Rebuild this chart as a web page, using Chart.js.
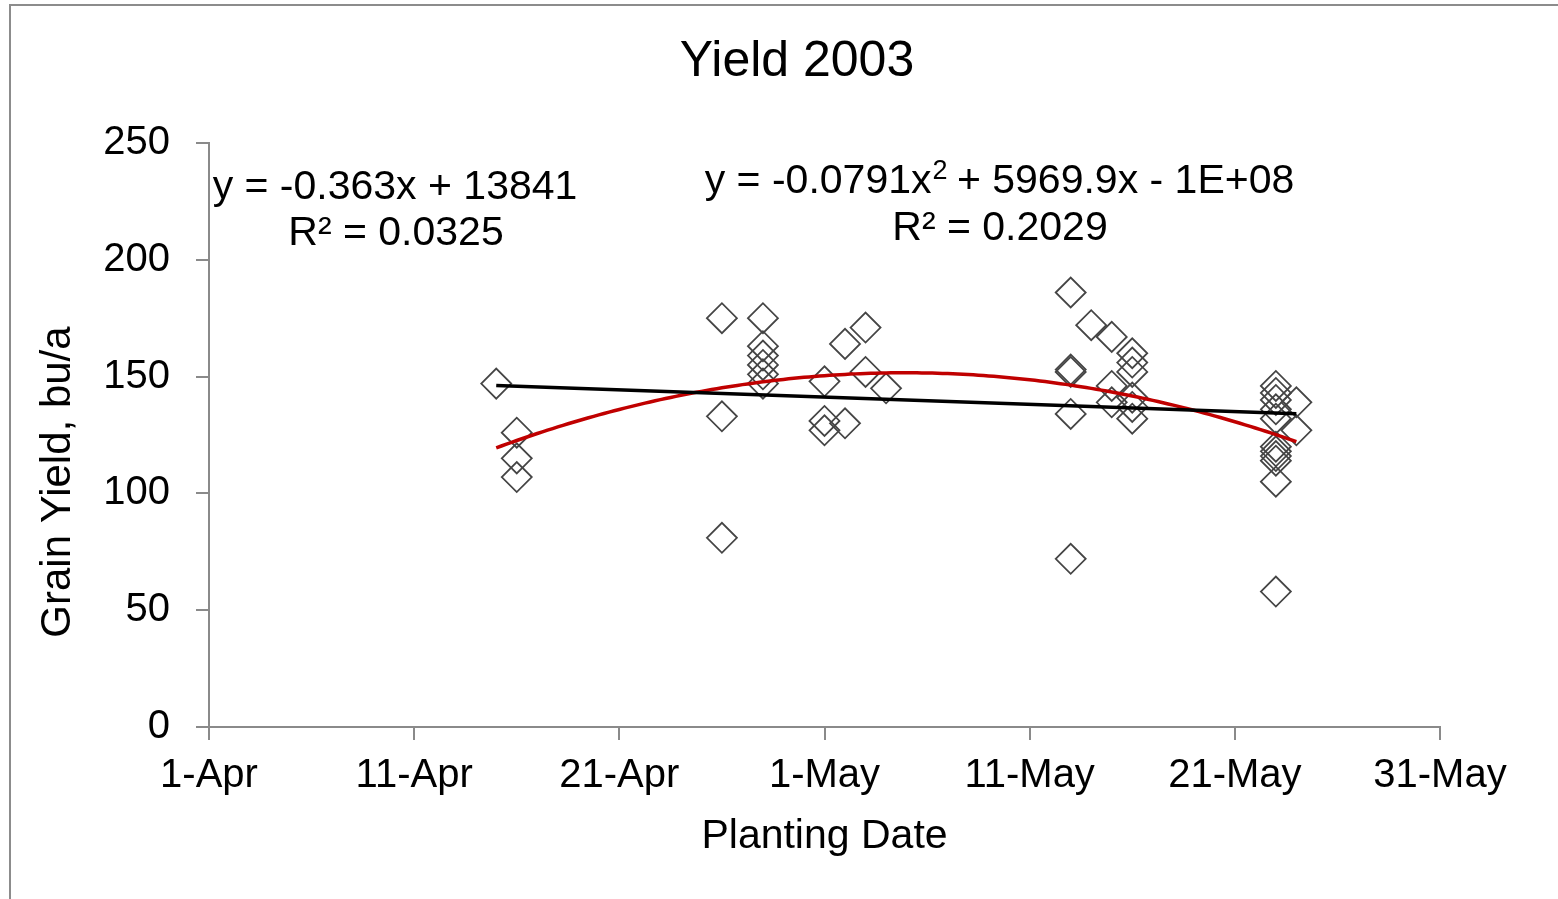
<!DOCTYPE html>
<html>
<head>
<meta charset="utf-8">
<title>Yield 2003</title>
<script src="https://cdn.jsdelivr.net/npm/chart.js@4/dist/chart.umd.min.js"></script>
<style>
  html, body { margin: 0; padding: 0; background: #ffffff; overflow: hidden; }
  #wrap { width: 1558px; height: 899px; position: relative; }
</style>
</head>
<body>
<div id="wrap"><canvas id="chart" width="1558" height="899"></canvas></div>
<script>
// Planting dates, as days counted from 1-Apr, and the grain yields (bu/a) observed on each
const plantingDates = ['15-Apr', '16-Apr', '26-Apr', '28-Apr', '1-May', '2-May', '3-May', '4-May',
                       '13-May', '14-May', '15-May', '16-May', '23-May', '24-May'];
const plantingDays  = [14, 15, 25, 27, 30, 31, 32, 33, 42, 43, 44, 45, 52, 53];
const yieldsByDate  = [
  [147],
  [126, 115, 107],
  [175, 133, 81],
  [175, 163, 159, 155, 151, 147],
  [148, 131, 127],
  [164, 130],
  [171, 152],
  [145],
  [186, 153, 152, 134, 72],
  [172],
  [167, 146, 139],
  [160, 156, 152, 141, 137, 132],
  [146, 143, 140, 136, 132, 120, 118, 116, 114, 105, 58],
  [139, 127]
];

// Axis tick labels (every 10 days from 1-Apr)
const xTickLabels = ['1-Apr', '11-Apr', '21-Apr', '1-May', '11-May', '21-May', '31-May'];
const yTicks = [0, 50, 100, 150, 200, 250];

// Titles
const chartTitle = 'Yield 2003';
const xTitle = 'Planting Date';
const yTitle = 'Grain Yield, bu/a';

// Trendline equations as printed on the chart (Excel date serials on x)
const linearLabel = ['y = -0.363x + 13841', 'R\u00b2 = 0.0325'];
const polyLabelParts = ['y = -0.0791x', '2', ' + 5969.9x - 1E+08'];
const polyLabelR2 = 'R\u00b2 = 0.2029';

// Flatten into scatter points
const points = [];
plantingDays.forEach((d, i) => yieldsByDate[i].forEach(v => points.push({ x: d, y: v })));

// Least-squares fits (linear and 2nd-order polynomial) of yield vs. planting day
function solve3(A, b) {
  const M = A.map((r, i) => r.concat([b[i]]));
  for (let c = 0; c < 3; c++) {
    let p = c;
    for (let r = c + 1; r < 3; r++) if (Math.abs(M[r][c]) > Math.abs(M[p][c])) p = r;
    [M[c], M[p]] = [M[p], M[c]];
    for (let r = 0; r < 3; r++) {
      if (r === c) continue;
      const f = M[r][c] / M[c][c];
      for (let k = c; k < 4; k++) M[r][k] -= f * M[c][k];
    }
  }
  return [M[0][3] / M[0][0], M[1][3] / M[1][1], M[2][3] / M[2][2]];
}
function fitLinear(pts) {
  const n = pts.length;
  let sx = 0, sy = 0, sxx = 0, sxy = 0;
  pts.forEach(p => { sx += p.x; sy += p.y; sxx += p.x * p.x; sxy += p.x * p.y; });
  const m = (n * sxy - sx * sy) / (n * sxx - sx * sx);
  return { m, b: (sy - m * sx) / n };
}
function fitQuadratic(pts) {
  let s = [0, 0, 0, 0, 0], t = [0, 0, 0];
  pts.forEach(p => {
    for (let k = 0; k < 5; k++) s[k] += Math.pow(p.x, k);
    for (let k = 0; k < 3; k++) t[k] += p.y * Math.pow(p.x, k);
  });
  return solve3([[s[0], s[1], s[2]], [s[1], s[2], s[3]], [s[2], s[3], s[4]]], t); // c0, c1, c2
}

const lin = fitLinear(points);
const quad = fitQuadratic(points);
const xMin = Math.min(...plantingDays), xMax = Math.max(...plantingDays);
const linearTrend = [xMin, xMax].map(x => ({ x, y: lin.m * x + lin.b }));
const polyTrend = [];
for (let x = xMin; x <= xMax + 1e-9; x += 0.25) {
  polyTrend.push({ x, y: quad[0] + quad[1] * x + quad[2] * x * x });
}

const FONT = "'Liberation Sans', Arial, sans-serif";
const AXIS_GREY = '#8a8a8a';

// Outer frame of the chart object
const framePlugin = {
  id: 'frame',
  beforeDraw(chart) {
    const ctx = chart.ctx;
    ctx.save();
    ctx.strokeStyle = '#8c8c8c';
    ctx.lineWidth = 2;
    ctx.strokeRect(10, 5, 1700, 1100);
    ctx.restore();
  }
};

// Chart title, y-axis title and trendline equation labels
const textPlugin = {
  id: 'texts',
  afterDraw(chart) {
    const ctx = chart.ctx;
    ctx.save();
    ctx.fillStyle = '#000000';
    ctx.textBaseline = 'middle';
    ctx.textAlign = 'center';

    ctx.font = '50px ' + FONT;
    ctx.fillText(chartTitle, 797, 62);

    ctx.save();
    ctx.translate(58, 482);
    ctx.rotate(-Math.PI / 2);
    ctx.font = '42px ' + FONT;
    ctx.fillText(yTitle, 0, 0);
    ctx.restore();
    ctx.restore();
  },
  afterDatasetsDraw(chart) {
    const ctx = chart.ctx;
    ctx.save();
    ctx.fillStyle = '#000000';
    ctx.textBaseline = 'middle';
    ctx.font = '41px ' + FONT;
    ctx.textAlign = 'center';
    ctx.fillText(linearLabel[0], 395, 188);
    ctx.fillText(linearLabel[1], 396, 234);
    ctx.fillText(polyLabelR2, 1000, 229);

    // polynomial equation with raised exponent
    const big = '41px ' + FONT, small = '27px ' + FONT;
    ctx.font = big;
    const w0 = ctx.measureText(polyLabelParts[0]).width;
    const w2 = ctx.measureText(polyLabelParts[2]).width;
    ctx.font = small;
    const w1 = ctx.measureText(polyLabelParts[1]).width;
    const total = w0 + w1 + w2;
    let x = 1000 - total / 2;
    ctx.textAlign = 'left';
    ctx.font = big;
    ctx.fillText(polyLabelParts[0], x, 182);
    x += w0 + 1;
    ctx.font = small;
    ctx.fillText(polyLabelParts[1], x, 172);
    x += w1 - 2;
    ctx.font = big;
    ctx.fillText(polyLabelParts[2], x, 182);
    ctx.restore();
  }
};

new Chart(document.getElementById('chart'), {
  type: 'scatter',
  data: {
    datasets: [
      {
        label: 'Grain yield',
        data: points,
        order: 3,
        pointStyle: 'rectRot',
        pointRadius: 15,
        pointHoverRadius: 15,
        pointBorderWidth: 1.8,
        borderColor: '#454545',
        backgroundColor: 'rgba(0,0,0,0)',
        showLine: false
      },
      {
        label: 'Linear trend',
        data: linearTrend,
        order: 1,
        showLine: true,
        borderColor: '#000000',
        borderWidth: 3.5,
        pointRadius: 0,
        fill: false
      },
      {
        label: 'Poly. trend',
        data: polyTrend,
        order: 2,
        showLine: true,
        borderColor: '#c00000',
        borderWidth: 3.5,
        pointRadius: 0,
        tension: 0,
        fill: false
      }
    ]
  },
  options: {
    responsive: false,
    animation: false,
    events: [],
    layout: { padding: { left: 0, right: 118, top: 143, bottom: 0 } },
    plugins: {
      legend: { display: false },
      tooltip: { enabled: false },
      title: { display: false }
    },
    scales: {
      x: {
        type: 'linear',
        min: 0,
        max: 60,
        afterFit(scale) { scale.height = 172; },
        afterBuildTicks(scale) { scale.ticks = xTickLabels.map((_, i) => ({ value: i * 10 })); },
        ticks: {
          color: '#000000',
          font: { family: FONT, size: 40 },
          padding: 12,
          maxRotation: 0,
          autoSkip: false,
          callback: (v) => xTickLabels[Math.round(v / 10)]
        },
        grid: { drawOnChartArea: false, drawTicks: true, tickLength: 13, color: AXIS_GREY, lineWidth: 2 },
        border: { color: AXIS_GREY, width: 2 },
        title: {
          display: true,
          text: xTitle,
          color: '#000000',
          font: { family: FONT, size: 41 },
          padding: { top: 0, bottom: 38 }
        }
      },
      y: {
        type: 'linear',
        min: 0,
        max: 250,
        afterFit(scale) { scale.width = 209; },
        afterBuildTicks(scale) { scale.ticks = yTicks.map(v => ({ value: v })); },
        ticks: {
          color: '#000000',
          font: { family: FONT, size: 40 },
          padding: 26
        },
        grid: { drawOnChartArea: false, drawTicks: true, tickLength: 13, color: AXIS_GREY, lineWidth: 2 },
        border: { color: AXIS_GREY, width: 2 },
        title: { display: false }
      }
    }
  },
  plugins: [framePlugin, textPlugin]
});
</script>
</body>
</html>
